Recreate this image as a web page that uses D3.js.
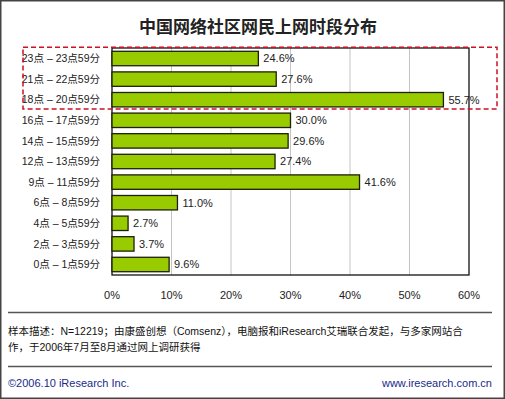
<!DOCTYPE html>
<html><head><meta charset="utf-8">
<script src="https://cdn.jsdelivr.net/npm/d3@7"></script>
<style>
html,body{margin:0;padding:0;background:#fff;}
svg{display:block;}
text{font-family:"Liberation Sans","Noto Sans CJK SC",sans-serif;}
</style></head>
<body>
<svg id="c" width="505" height="399"></svg>
<script>
const title = "中国网络社区网民上网时段分布";
const categories = ["23点 – 23点59分","21点 – 22点59分","18点 – 20点59分","16点 – 17点59分","14点 – 15点59分","12点 – 13点59分","9点 – 11点59分","6点 – 8点59分","4点 – 5点59分","2点 – 3点59分","0点 – 1点59分"];
const values = [24.6, 27.6, 55.7, 30.0, 29.6, 27.4, 41.6, 11.0, 2.7, 3.7, 9.6];
const xTicks = [0, 10, 20, 30, 40, 50, 60];
const highlighted = ["23点 – 23点59分","21点 – 22点59分","18点 – 20点59分"];
const noteLines = ["样本描述：N=12219；由康盛创想（Comsenz），电脑报和iResearch艾瑞联合发起，与多家网站合","作，于2006年7月至8月通过网上调研获得"];
const footerLeft = "©2006.10 iResearch Inc.";
const footerRight = "www.iresearch.com.cn";

const svg = d3.select("#c");
const W = 505, H = 399;
const L = 112, R = 469, T = 48, B = 275;

svg.append("rect").attr("x",0.75).attr("y",0.75).attr("width",W-1.5).attr("height",H-1.5)
  .attr("fill","#fff").attr("stroke","#444").attr("stroke-width",1.5);

svg.append("text").attr("x",258).attr("y",33).attr("text-anchor","middle")
  .attr("font-size",17).attr("font-weight","bold").attr("fill","#222").text(title);

const x = d3.scaleLinear().domain([0,60]).range([L,R]);
const y = d3.scaleBand().domain(categories).range([T,B]).paddingInner(0.3).paddingOuter(0.16);

// gridlines
svg.append("g").selectAll("line").data(xTicks.filter(t=>t>0&&t<60)).join("line")
  .attr("x1",d=>x(d)).attr("x2",d=>x(d)).attr("y1",T).attr("y2",B)
  .attr("stroke","#c4c4c4").attr("stroke-width",1);

// frame
svg.append("rect").attr("x",L).attr("y",T).attr("width",R-L).attr("height",B-T)
  .attr("fill","none").attr("stroke","#111").attr("stroke-width",1.3);

// bars
svg.append("g").selectAll("rect").data(categories).join("rect")
  .attr("x",x(0)).attr("y",d=>y(d)).attr("width",(d,i)=>x(values[i])-x(0)).attr("height",y.bandwidth())
  .attr("fill","#99cc00").attr("stroke","#1e1e0a").attr("stroke-width",1.3);

// value labels
svg.append("g").selectAll("text").data(categories).join("text")
  .attr("x",(d,i)=>x(values[i])+5).attr("y",d=>y(d)+y.bandwidth()/2).attr("dy","0.35em")
  .attr("font-size",11).attr("fill","#222").text((d,i)=>values[i].toFixed(1)+"%");

// y labels
svg.append("g").selectAll("text").data(categories).join("text")
  .attr("x",100).attr("y",d=>y(d)+y.bandwidth()/2).attr("dy","0.35em").attr("text-anchor","end")
  .attr("font-size",10.5).attr("fill","#222").text(d=>d);

// x ticks
svg.append("g").selectAll("text").data(xTicks).join("text")
  .attr("x",d=>x(d)).attr("y",295).attr("dy","0.35em").attr("text-anchor","middle")
  .attr("font-size",11).attr("fill","#222").text(d=>d+"%");

// highlight box
const hb = highlighted.map(c=>y(c));
svg.append("rect").attr("x",23).attr("y",hb[0]-4).attr("width",474)
  .attr("height",hb[hb.length-1]+y.bandwidth()-hb[0]+6)
  .attr("fill","none").attr("stroke","#cc1122").attr("stroke-width",1.5).attr("stroke-dasharray","5,3");

// separators
svg.append("line").attr("x1",8).attr("x2",492).attr("y1",312.5).attr("y2",312.5).attr("stroke","#555").attr("stroke-width",1.5);
svg.append("line").attr("x1",8).attr("x2",492).attr("y1",366.5).attr("y2",366.5).attr("stroke","#555").attr("stroke-width",1.5);

svg.append("g").selectAll("text").data(noteLines).join("text")
  .attr("x",8).attr("y",(d,i)=>331+i*16).attr("dy","0.35em")
  .attr("font-size",10.5).attr("fill","#111").text(d=>d);

svg.append("text").attr("x",8).attr("y",383).attr("dy","0.35em").attr("font-size",11).attr("fill","#1a2a8a").text(footerLeft);
svg.append("text").attr("x",492).attr("y",383).attr("dy","0.35em").attr("text-anchor","end").attr("font-size",11).attr("fill","#1a2a8a").text(footerRight);
</script>
</body></html>
